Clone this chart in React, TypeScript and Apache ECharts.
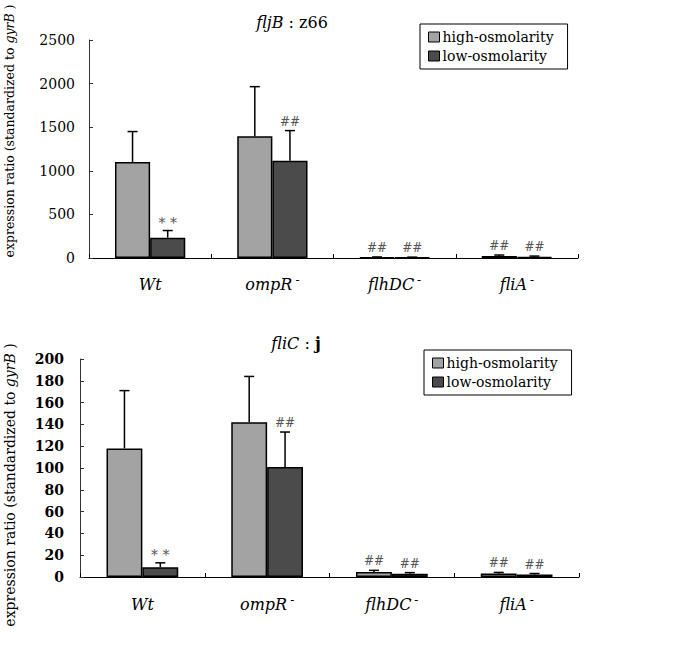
import React, { useEffect, useRef } from "react";
import * as echarts from "echarts";

const categories = ["Wt", "ompR", "flhDC", "fliA"];
const catSup = ["", "-", "-", "-"];
const seriesNames = ["high-osmolarity", "low-osmolarity"];

// top panel: fljB:z66
const topHigh = [1100, 1395, 8, 22];
const topHighErr = [350, 570, 4, 12];
const topLow = [233, 1116, 6, 10];
const topLowErr = [82, 345, 4, 12];
const topHighMarks = ["", "", "##", "##"];
const topLowMarks = ["**", "##", "##", "##"];
const topTicks = { min: 0, max: 2500, interval: 500 };

// bottom panel: fliC:j
const botHigh = [118, 142, 4.6, 3.2];
const botHighErr = [53, 42, 1.5, 1];
const botLow = [9, 101, 3, 2.2];
const botLowErr = [4, 32, 1, 1];
const botHighMarks = ["", "", "##", "##"];
const botLowMarks = ["**", "##", "##", "##"];
const botTicks = { min: 0, max: 200, interval: 20 };

const HIGH_COLOR = "#a3a3a3";
const LOW_COLOR = "#4b4b4b";
const FONT = "DejaVu Serif";
const GAP = 0.425;

export default function App() {
  const ref = useRef<HTMLDivElement>(null);
  useEffect(() => {
    document.body.style.margin = "0";
    const chart = echarts.init(ref.current!, null, { renderer: "svg" });

    const errSeries = (
      name: string,
      vals: number[],
      errs: number[],
      marks: string[],
      side: number,
      axisIdx: number
    ) => ({
      type: "custom",
      name,
      xAxisIndex: axisIdx,
      yAxisIndex: axisIdx,
      z: 10,
      data: vals.map((v, i) => [i, v, errs[i]]),
      encode: { x: 0, y: 1 },
      renderItem: (params: any, api: any) => {
        const idx = api.value(0);
        const v = api.value(1);
        const e = api.value(2);
        const base = api.coord([idx, v]);
        const top = api.coord([idx, v + e]);
        const band = api.size([1, 0])[0];
        const x = base[0] + (side * band * (1 - GAP)) / 4;
        const children: any[] = [
          {
            type: "line",
            shape: { x1: x, y1: base[1], x2: x, y2: top[1] },
            style: { stroke: "#000", lineWidth: 1.5 },
          },
          {
            type: "line",
            shape: { x1: x - 5, y1: top[1], x2: x + 5, y2: top[1] },
            style: { stroke: "#000", lineWidth: 1.5 },
          },
        ];
        const m = marks[params.dataIndex];
        if (m) {
          const star = m === "**";
          children.push({
            type: "text",
            x: x,
            y: top[1] - (star ? 1 : 3),
            style: {
              text: star ? "* *" : m,
              fill: "#555",
              font: `${star ? 14 : 12}px "${FONT}"`,
              align: "center",
              verticalAlign: "bottom",
            },
          });
        }
        return { type: "group", children };
      },
    });

    const xAxis = (gridIndex: number, fontSize: number, margin: number) => ({
      type: "category",
      gridIndex,
      data: categories,
      axisLine: { lineStyle: { color: "#000", width: 1 } },
      axisTick: { show: true, inside: true, length: 4, lineStyle: { color: "#000" } },
      axisLabel: {
        margin,
        formatter: (val: string, i: number) =>
          catSup[i] ? `{i|${val}}{s|${catSup[i]}}` : `{i|${val}}`,
        rich: {
          i: { fontFamily: FONT, fontStyle: "italic", fontSize, color: "#000", lineHeight: fontSize + 4 },
          s: { fontFamily: FONT, fontSize: fontSize - 4, color: "#000", verticalAlign: "top", padding: [0, 0, 0, 3] },
        },
      },
    });

    const yAxis = (gridIndex: number, t: any, margin: number, bold: boolean) => ({
      type: "value",
      gridIndex,
      min: t.min,
      max: t.max,
      interval: t.interval,
      splitLine: { show: false },
      axisLine: { show: true, lineStyle: { color: "#333", width: 1 } },
      axisTick: { show: true, inside: true, length: 4, lineStyle: { color: "#333" } },
      axisLabel: {
        margin,
        fontFamily: FONT,
        fontSize: 14,
        color: "#000",
        fontWeight: bold ? "bold" : "normal",
        formatter: (v: number) => String(v),
      },
    });

    const barSeries = (name: string, data: number[], color: string, axisIdx: number) => ({
      type: "bar",
      name,
      xAxisIndex: axisIdx,
      yAxisIndex: axisIdx,
      data,
      barGap: "0%",
      barCategoryGap: `${GAP * 100}%`,
      itemStyle: { color, borderColor: "#000", borderWidth: 1.5 },
    });

    const legend = (left: number, top: number, fontSize: number) => ({
      left,
      top,
      orient: "vertical",
      data: seriesNames,
      borderColor: "#000",
      borderWidth: 1,
      borderRadius: 0,
      padding: [6, 14, 6, 8],
      itemGap: 5,
      itemWidth: 11,
      itemHeight: 10,
      icon: "rect",
      itemStyle: { borderColor: "#000", borderWidth: 1 },
      textStyle: { fontFamily: FONT, fontSize, color: "#000", padding: [0, 0, 0, -2] },
      selectedMode: false,
    });

    const option: any = {
      animation: false,
      backgroundColor: "#fff",
      grid: [
        { left: 89, top: 40, width: 489, height: 218 },
        { left: 80, top: 359, width: 499, height: 218 },
      ],
      xAxis: [xAxis(0, 16, 16), xAxis(1, 16, 17)],
      yAxis: [yAxis(0, topTicks, 14, false), yAxis(1, botTicks, 16, true)],
      legend: [legend(420, 24, 14), legend(424, 350, 14)],
      series: [
        barSeries(seriesNames[0], topHigh, HIGH_COLOR, 0),
        barSeries(seriesNames[1], topLow, LOW_COLOR, 0),
        errSeries("errTopHigh", topHigh, topHighErr, topHighMarks, -1, 0),
        errSeries("errTopLow", topLow, topLowErr, topLowMarks, 1, 0),
        barSeries(seriesNames[0], botHigh, HIGH_COLOR, 1),
        barSeries(seriesNames[1], botLow, LOW_COLOR, 1),
        errSeries("errBotHigh", botHigh, botHighErr, botHighMarks, -1, 1),
        errSeries("errBotLow", botLow, botLowErr, botLowMarks, 1, 1),
      ],
      graphic: [
        {
          type: "text",
          x: 292,
          y: 22,
          style: {
            text: "{i|fljB}{n| : z66}",
            align: "center",
            verticalAlign: "middle",
            rich: {
              i: { fontFamily: FONT, fontStyle: "italic", fontSize: 16, fill: "#000" },
              n: { fontFamily: FONT, fontSize: 16, fill: "#000" },
            },
          },
        },
        {
          type: "text",
          x: 296,
          y: 343,
          style: {
            text: "{i|fliC}{n| : }{b|j}",
            align: "center",
            verticalAlign: "middle",
            rich: {
              i: { fontFamily: FONT, fontStyle: "italic", fontSize: 16, fill: "#000" },
              n: { fontFamily: FONT, fontSize: 16, fill: "#000" },
              b: { fontFamily: FONT, fontWeight: "bold", fontSize: 16, fill: "#000" },
            },
          },
        },
        {
          type: "text",
          x: 9,
          y: 131,
          rotation: Math.PI / 2,
          style: {
            text: "{a|expression ratio (standardized to }{b|gyrB}{a| )}",
            align: "center",
            verticalAlign: "middle",
            rich: {
              a: { fontFamily: FONT, fontSize: 12.5, fill: "#000" },
              b: { fontFamily: FONT, fontStyle: "italic", fontSize: 12.5, fill: "#000" },
            },
          },
        },
        {
          type: "text",
          x: 10,
          y: 485,
          rotation: Math.PI / 2,
          style: {
            text: "{a|expression ratio (standardized to }{b|gyrB}{a| )}",
            align: "center",
            verticalAlign: "middle",
            rich: {
              a: { fontFamily: FONT, fontSize: 14, fill: "#000" },
              b: { fontFamily: FONT, fontStyle: "italic", fontSize: 14, fill: "#000" },
            },
          },
        },
      ],
    };
    chart.setOption(option);
    return () => chart.dispose();
  }, []);
  return <div ref={ref} style={{ width: 692, height: 645 }} />;
}
